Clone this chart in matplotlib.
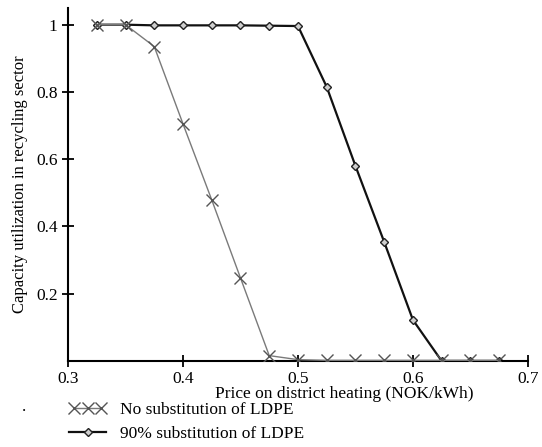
import matplotlib
matplotlib.use("Agg")
import matplotlib.pyplot as plt
from matplotlib.legend_handler import HandlerLine2D

plt.rcParams['font.family'] = ['Liberation Serif', 'DejaVu Serif']

price = [0.325, 0.35, 0.375, 0.4, 0.425, 0.45, 0.475, 0.5, 0.525,
         0.55, 0.575, 0.6, 0.625, 0.65, 0.675]
no_subst = [1.0, 1.0, 0.935, 0.705, 0.479, 0.247, 0.016, 0.004, 0.002,
            0.002, 0.002, 0.002, 0.002, 0.002, 0.002]
subst90 = [1.0, 1.0, 0.998, 0.998, 0.998, 0.998, 0.997, 0.996, 0.815,
           0.58, 0.354, 0.122, 0.0, 0.0, 0.0]

xticks = [0.3, 0.4, 0.5, 0.6, 0.7]
yticks = [0.2, 0.4, 0.6, 0.8, 1.0]
ytick_labels = ["0.2", "0.4", "0.6", "0.8", "1"]

fig = plt.figure(figsize=(5.42, 4.47), dpi=100)
ax = fig.add_axes([0.1255, 0.1924, 0.8485, 0.79])

l1, = ax.plot(price, no_subst, color="#7a7a7a", lw=1.0, marker="x",
              ms=8, mew=1.0, mec="#555555", label="No substitution of LDPE",
              zorder=3)
l2, = ax.plot(price, subst90, color="#111111", lw=1.6, marker="D",
              ms=4.5, mfc="#cfcfcf", mec="#222222", mew=1.0,
              label="90% substitution of LDPE", zorder=2)

ax.set_xlim(0.3, 0.7)
ax.set_ylim(0, 1.05)
ax.set_xticks(xticks)
ax.set_xticklabels([str(t) for t in xticks])
ax.set_yticks(yticks)
ax.set_yticklabels(ytick_labels)
for s in ("top", "right"):
    ax.spines[s].set_visible(False)
for s in ("left", "bottom"):
    ax.spines[s].set_linewidth(1.5)
ax.tick_params(direction="inout", length=9, width=1.3, labelsize=12.5,
               pad=3)
ax.set_xlabel("Price on district heating (NOK/kWh)", fontsize=12.5,
              labelpad=-1, x=0.6)
ax.set_ylabel("Capacity utilization in recycling sector", fontsize=12,
              labelpad=6)

fig.legend(handles=[l1, l2], loc="upper left",
           bbox_to_anchor=(0.115, 0.116), frameon=False, fontsize=12.5,
           handlelength=2.1, handletextpad=0.8, labelspacing=0.45,
           borderaxespad=0,
           handler_map={l1: HandlerLine2D(numpoints=3),
                        l2: HandlerLine2D(numpoints=1)})
fig.text(0.04, 0.08, ".", fontsize=12)

fig.savefig("out.png", dpi=100)
